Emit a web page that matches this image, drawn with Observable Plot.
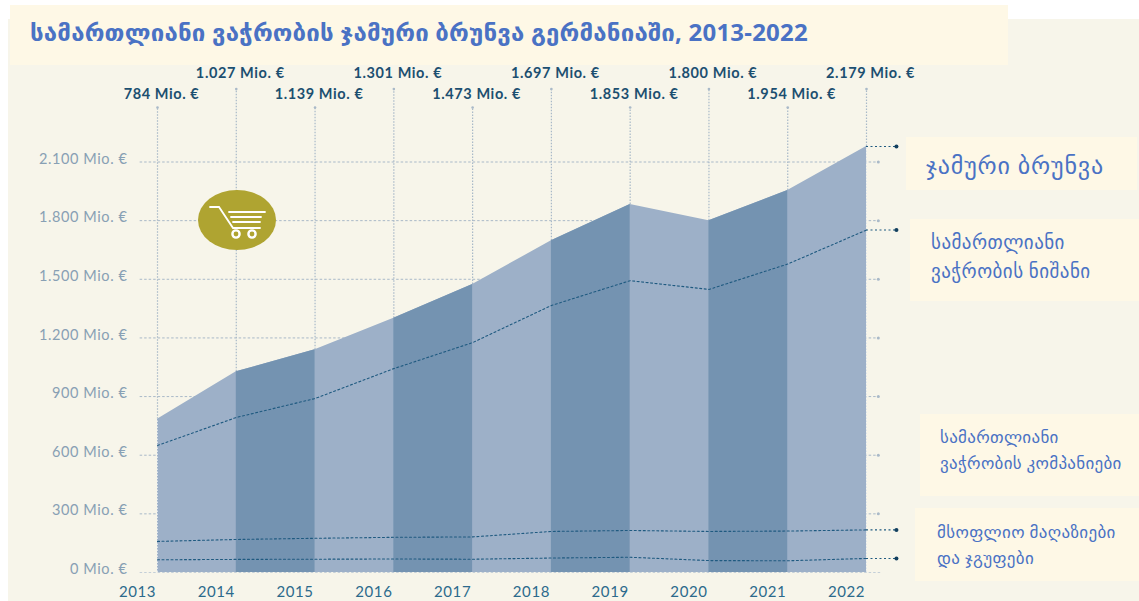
<!DOCTYPE html>
<html lang="ka"><head><meta charset="utf-8">
<script src="https://cdn.jsdelivr.net/npm/d3@7"></script>
<script src="https://cdn.jsdelivr.net/npm/@observablehq/plot@0.6"></script>
<style>
html,body{margin:0;padding:0;background:#fff;width:1139px;height:601px;overflow:hidden}
#bg{position:absolute;left:8px;top:19px;width:1131px;height:582px;background:#f7f5ea}
#chart{position:absolute;left:0;top:0}
#chart svg{background:transparent;overflow:visible;display:block}
#chart text{letter-spacing:.6px}
.band{position:absolute;background:#fef8e6;color:#4a72c4;font-family:"Lato","DejaVu Sans",sans-serif;box-sizing:border-box;white-space:nowrap}
#title{left:10px;top:5px;width:998px;height:60px;margin:0;padding:12px 0 0 20px;font-size:24px;line-height:30px;font-weight:700;font-family:"Noto Sans","DejaVu Sans",sans-serif;letter-spacing:.2px}
.tx{position:absolute}
#cart{position:absolute;left:198px;top:190px}
</style></head><body>
<div id="bg"></div>
<div id="chart"></div>
<svg id="cart" width="78" height="60" viewBox="0 0 78 60">
<ellipse cx="39" cy="30" rx="39" ry="30" fill="#afa431"/>
<g fill="none" stroke="#fff" stroke-width="1.8" stroke-linecap="round">
<path d="M12 17H21L35 38H62"/><path d="M31 22H67M33 27H63M35 32H62"/>
<circle cx="38" cy="44" r="3.6" stroke-width="2.4"/><circle cx="54" cy="44" r="3.6" stroke-width="2.4"/>
</g></svg>
<h1 class="band" id="title">სამართლიანი ვაჭრობის ჯამური ბრუნვა გერმანიაში, 2013-2022</h1>
<div class="band" style="left:906px;top:137px;width:231px;height:53px"><span class="tx" style="left:20px;top:13px;font-size:24px;line-height:30px;letter-spacing:.85px">ჯამური ბრუნვა</span></div>
<div class="band" style="left:910px;top:219px;width:229px;height:82px"><span class="tx" style="left:21px;top:9px;font-size:19px;line-height:28.5px;letter-spacing:.45px">სამართლიანი<br>ვაჭრობის ნიშანი</span></div>
<div class="band" style="left:920px;top:414px;width:219px;height:82px"><span class="tx" style="left:20px;top:10px;font-size:17px;line-height:26px;letter-spacing:.3px">სამართლიანი<br>ვაჭრობის კომპანიები</span></div>
<div class="band" style="left:915px;top:508px;width:224px;height:73px"><span class="tx" style="left:22px;top:11px;font-size:17px;line-height:25.5px;letter-spacing:.35px">მსოფლიო მაღაზიები<br>და ჯგუფები</span></div>
<script>
const years = [2013,2014,2015,2016,2017,2018,2019,2020,2021,2022];
const totalLabels = [784,1027,1139,1301,1473,1697,1853,1800,1954,2179];
const totalDrawn = [784,1027,1139,1301,1473,1697,1882,1800,1954,2179];
const fairTradeMark = [650,793,890,1043,1176,1366,1493,1448,1578,1752];
const fairTradeCompanies = [159,169,175,180,182,210,215,210,212,218];
const worldShops = [65,67,68,69,68,74,78,61,60,72];
const yTicks = [0,300,600,900,1200,1500,1800,2100];
const labelRows = [2445,2553,2445,2553,2445,2553,2445,2553,2445,2553];
const guideTops = [2379,2473,2379,2473,2379,2473,2379,2473,2379,2473];
const gridStart = 2012.78, gridEnd = 2022.15, connectorEnd = 2022.38;

const num = d3.formatLocale({decimal:",",thousands:".",grouping:[3],currency:["","€"]}).format(",");
const mio = v => `${num(v)} Mio. €`;
const latin = "Lato, 'DejaVu Sans', sans-serif";

const table = years.map((y,i)=>({y,i,total:totalDrawn[i],label:totalLabels[i],row:labelRows[i],top:guideTops[i]}));
const darkSegments = years.slice(0,-1).flatMap((y,i)=> i%2===1 ? [
  {seg:i, x:y, v:totalDrawn[i]},
  {seg:i, x:years[i+1], v:totalDrawn[i+1]}
] : []);
const lines = [fairTradeMark,fairTradeCompanies,worldShops];
const last = [totalDrawn,fairTradeMark,fairTradeCompanies,worldShops].map(a=>a[a.length-1]);
const gridTicks = yTicks.filter(t=>t>0);
const edges = table.filter(d=>d.i===0||d.i===years.length-1);
const dark = "#1f5a80", grid = "#a9b9c8";

const plot = Plot.plot({
  width:1139,height:601,
  marginLeft:157,marginRight:273,marginTop:0,marginBottom:29,
  style:{background:"transparent",fontFamily:latin},
  x:{domain:[2013,2022],range:[157,866]},
  y:{domain:[0,2100],range:[572,161.5]},
  marks:[
    Plot.ruleY(gridTicks,{x1:gridStart,x2:gridEnd,stroke:grid,strokeWidth:1,strokeDasharray:"2.5,2"}),
    Plot.ruleY([0],{x1:gridStart,x2:gridEnd+.05,stroke:"#c4cfd8",strokeWidth:1,strokeDasharray:"2.5,2"}),
    Plot.dot(gridTicks,{x:()=>gridEnd,y:d=>d,r:1.5,fill:grid}),
    Plot.ruleX(table,{x:"y",y1:"total",y2:"top",stroke:grid,strokeWidth:1.2,strokeDasharray:"1.5,1.5"}),
    Plot.dot(table,{x:"y",y:"top",r:1.3,fill:grid}),
    Plot.areaY(table,{x:"y",y1:0,y2:"total",fill:"#9db0c8",curve:"linear"}),
    Plot.areaY(darkSegments,{x:"x",y1:0,y2:"v",z:"seg",fill:"#7493b1",curve:"linear"}),
    Plot.ruleX(edges,{x:"y",y1:0,y2:"total",stroke:"#dfe5ea",strokeWidth:1,strokeDasharray:"1.5,1.5"}),
    ...lines.map(a=>Plot.line(a,{x:(d,i)=>years[i],y:d=>d,stroke:dark,strokeWidth:1.1,strokeDasharray:"2,2.5"})),
    Plot.ruleY(last,{x1:2022,x2:connectorEnd,stroke:dark,strokeWidth:1.1,strokeDasharray:"2,2.5"}),
    Plot.dot(last,{x:()=>connectorEnd,y:d=>d,r:2,fill:"#123f5e"}),
    Plot.text(table,{x:"y",y:"row",text:d=>mio(d.label),dx:4,fill:"#1c4f70",fontSize:14.5,fontWeight:700,fontFamily:latin}),
    Plot.axisX({ticks:years,tickSize:0,tickPadding:14,dx:-20,tickFormat:d=>String(d),fontSize:15,color:"#2c6a8c",fontFamily:latin}),
    Plot.axisY({ticks:yTicks,tickSize:0,tickPadding:30,dy:-3,tickFormat:mio,label:null,fontSize:14.5,color:"#88a0b4",fontFamily:latin})
  ]
});
document.getElementById("chart").append(plot);
</script>
</body></html>
